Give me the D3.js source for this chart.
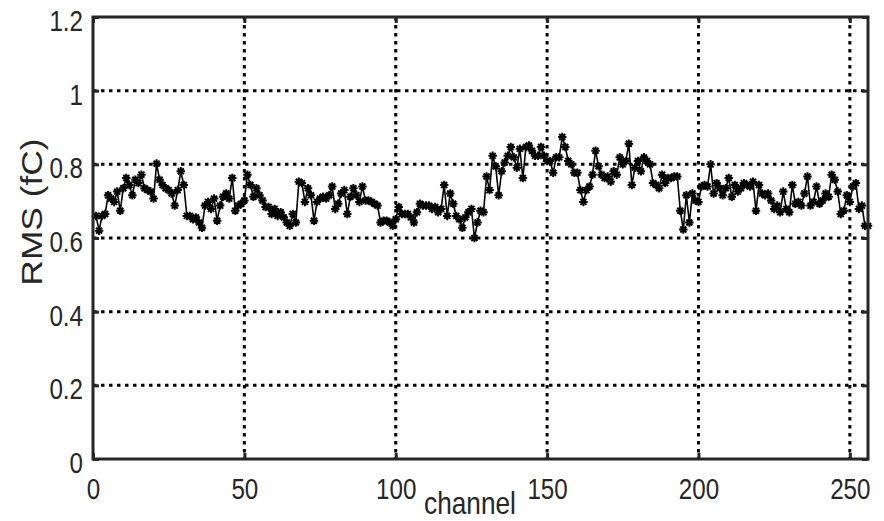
<!DOCTYPE html>
<html>
<head>
<meta charset="utf-8">
<script src="https://cdn.jsdelivr.net/npm/d3@7"></script>
<style>
  body { margin: 0; background: #fff; }
  svg { display: block; font-family: "Liberation Sans", Arial, Helvetica, sans-serif; }
</style>
</head>
<body>
<svg id="chart" width="884" height="521"></svg>
<script>
// RMS noise per channel
var rms = [
  0.660, 0.620, 0.660, 0.665, 0.716, 0.707, 0.698, 0.726, 0.674, 0.735,
  0.763, 0.744, 0.716, 0.758, 0.749, 0.772, 0.735, 0.730, 0.726, 0.707,
  0.802, 0.758, 0.744, 0.735, 0.730, 0.721, 0.688, 0.730, 0.781, 0.744,
  0.660, 0.660, 0.651, 0.656, 0.642, 0.628, 0.688, 0.698, 0.679, 0.707,
  0.647, 0.688, 0.712, 0.721, 0.707, 0.763, 0.674, 0.688, 0.693, 0.702,
  0.772, 0.744, 0.712, 0.735, 0.716, 0.702, 0.684, 0.684, 0.665, 0.679,
  0.660, 0.670, 0.656, 0.642, 0.633, 0.665, 0.642, 0.753, 0.749, 0.698,
  0.735, 0.716, 0.647, 0.698, 0.707, 0.712, 0.707, 0.716, 0.740, 0.679,
  0.693, 0.721, 0.730, 0.665, 0.712, 0.735, 0.716, 0.698, 0.740, 0.702,
  0.702, 0.698, 0.693, 0.688, 0.642, 0.647, 0.647, 0.642, 0.633, 0.651,
  0.684, 0.665, 0.665, 0.665, 0.656, 0.642, 0.670, 0.693, 0.688, 0.688,
  0.688, 0.679, 0.684, 0.670, 0.679, 0.744, 0.660, 0.721, 0.693, 0.660,
  0.651, 0.628, 0.656, 0.670, 0.679, 0.600, 0.642, 0.674, 0.670, 0.767,
  0.730, 0.823, 0.795, 0.716, 0.781, 0.805, 0.823, 0.847, 0.819, 0.791,
  0.842, 0.763, 0.847, 0.851, 0.837, 0.823, 0.823, 0.847, 0.823, 0.809,
  0.809, 0.777, 0.819, 0.819, 0.874, 0.847, 0.809, 0.800, 0.777, 0.777,
  0.730, 0.698, 0.730, 0.740, 0.772, 0.837, 0.795, 0.772, 0.763, 0.767,
  0.753, 0.781, 0.772, 0.819, 0.800, 0.809, 0.856, 0.744, 0.791, 0.809,
  0.781, 0.819, 0.809, 0.800, 0.749, 0.744, 0.735, 0.772, 0.749, 0.763,
  0.763, 0.767, 0.767, 0.674, 0.623, 0.716, 0.642, 0.721, 0.702, 0.698,
  0.740, 0.744, 0.740, 0.800, 0.721, 0.749, 0.735, 0.716, 0.735, 0.763,
  0.712, 0.744, 0.726, 0.735, 0.749, 0.744, 0.740, 0.753, 0.674, 0.744,
  0.721, 0.716, 0.721, 0.702, 0.679, 0.688, 0.670, 0.726, 0.679, 0.670,
  0.744, 0.693, 0.698, 0.688, 0.721, 0.767, 0.688, 0.698, 0.740, 0.693,
  0.702, 0.721, 0.712, 0.772, 0.758, 0.726, 0.665, 0.674, 0.716, 0.698,
  0.740, 0.749, 0.679, 0.688, 0.633, 0.633
];
var channels = d3.range(1, rms.length + 1);
var xTicks = [0, 50, 100, 150, 200, 250];
var yTicks = [0, 0.2, 0.4, 0.6, 0.8, 1, 1.2];

var margin = {top: 17, right: 16, bottom: 62, left: 93};
var svg = d3.select('#chart');
var W = +svg.attr('width'), H = +svg.attr('height');
var w = W - margin.left - margin.right, h = H - margin.top - margin.bottom;

var x = d3.scaleLinear().domain([0, 256]).range([0, w]);
var y = d3.scaleLinear().domain([0, 1.2]).range([h, 0]);

var g = svg.append('g').attr('transform', 'translate(' + margin.left + ',' + margin.top + ')');
var axisColor = '#262626';
var squeeze = 0.82; // text in the reference is stretched vertically

// dotted grid
g.append('g').selectAll('line').data(xTicks.slice(1)).enter().append('line')
  .attr('x1', function (d) { return x(d); }).attr('x2', function (d) { return x(d); })
  .attr('y1', 0).attr('y2', h)
  .attr('stroke', '#000').attr('stroke-width', 3).attr('stroke-dasharray', '3.5,4.5');
g.append('g').selectAll('line').data(yTicks.slice(1, -1)).enter().append('line')
  .attr('y1', function (d) { return y(d); }).attr('y2', function (d) { return y(d); })
  .attr('x1', 0).attr('x2', w)
  .attr('stroke', '#000').attr('stroke-width', 3).attr('stroke-dasharray', '3.5,4.5');

// axes with inward ticks on all four sides
function styleAxis(sel) {
  sel.select('.domain').remove();
  sel.selectAll('.tick line').attr('stroke', axisColor).attr('stroke-width', 3);
  sel.selectAll('.tick text').attr('fill', axisColor).style('font-size', '29.5px')
    .attr('transform', 'scale(' + squeeze + ',1)');
}
g.append('g').attr('transform', 'translate(0,' + h + ')')
  .call(d3.axisBottom(x).tickValues(xTicks).tickSize(-6).tickFormat(d3.format('d')))
  .call(styleAxis)
  .selectAll('.tick text').attr('y', 40).attr('dy', 0);
g.append('g')
  .call(d3.axisLeft(y).tickValues(yTicks).tickSize(-6).tickFormat(function (d) { return String(+d.toFixed(1)); }))
  .call(styleAxis)
  .selectAll('.tick text').attr('x', -10 / squeeze).attr('dy', '0.46em');
g.append('g')
  .call(d3.axisTop(x).tickValues(xTicks).tickSize(-6).tickFormat(''))
  .call(styleAxis);
g.append('g').attr('transform', 'translate(' + w + ',0)')
  .call(d3.axisRight(y).tickValues(yTicks).tickSize(-6).tickFormat(''))
  .call(styleAxis);

// data line + MATLAB-like '*' markers
var line = d3.line()
  .x(function (d, i) { return x(channels[i]); })
  .y(function (d) { return y(d); });
g.append('path').datum(rms)
  .attr('d', line).attr('fill', 'none').attr('stroke', '#000').attr('stroke-width', 1.6);

var asterisk = {
  draw: function (ctx, size) {
    var r = Math.sqrt(size) / 2, k = r * Math.SQRT1_2;
    ctx.moveTo(-r, 0); ctx.lineTo(r, 0);
    ctx.moveTo(0, -r); ctx.lineTo(0, r);
    ctx.moveTo(-k, -k); ctx.lineTo(k, k);
    ctx.moveTo(-k, k); ctx.lineTo(k, -k);
  }
};
var star = d3.symbol().type(asterisk).size(72);
g.append('g').selectAll('path').data(rms).enter().append('path')
  .attr('transform', function (d, i) { return 'translate(' + x(channels[i]) + ',' + y(d) + ')'; })
  .attr('d', star).attr('fill', 'none').attr('stroke', '#000').attr('stroke-width', 2);

// frame
g.append('rect').attr('width', w).attr('height', h)
  .attr('fill', 'none').attr('stroke', axisColor).attr('stroke-width', 3);

// axis labels
svg.append('text').attr('transform', 'translate(470,514) scale(' + squeeze + ',1)')
  .attr('text-anchor', 'middle').attr('fill', axisColor).style('font-size', '32px').text('channel');
svg.append('text').attr('transform', 'translate(42,212) rotate(-90) scale(' + (1 / squeeze) + ',1)')
  .attr('text-anchor', 'middle').attr('fill', axisColor).style('font-size', '29px').text('RMS (fC)');
</script>
</body>
</html>
